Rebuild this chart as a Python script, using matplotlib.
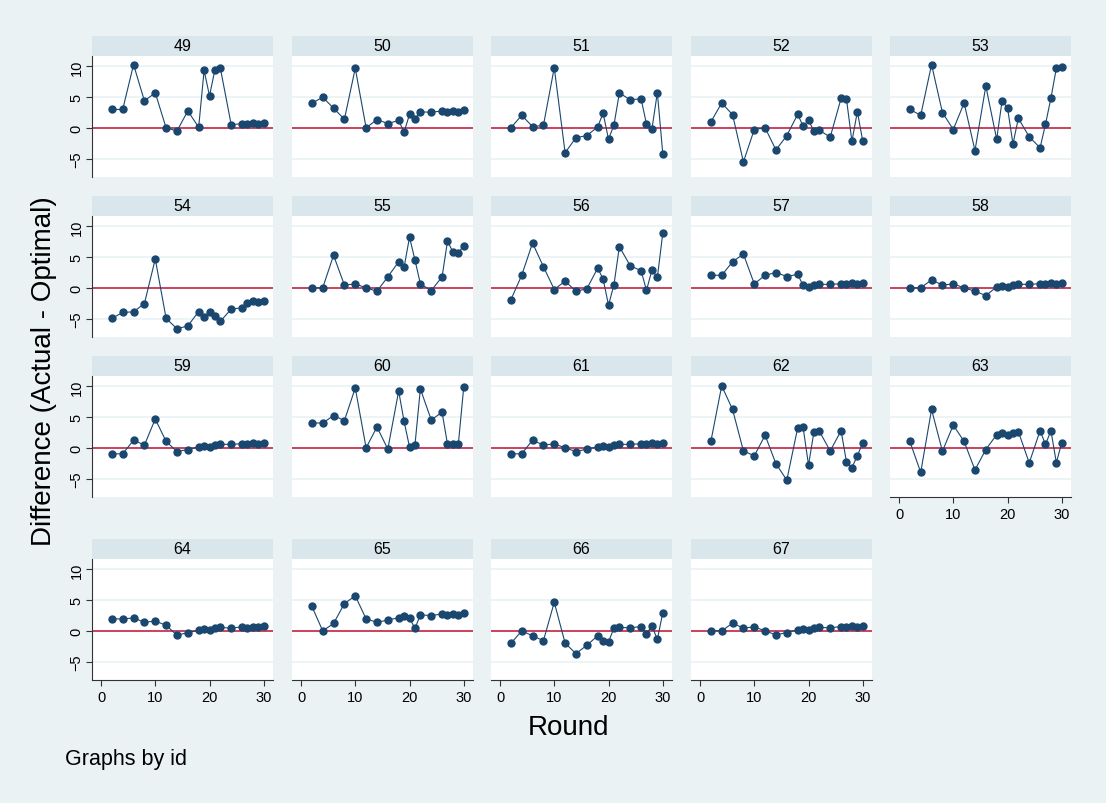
import matplotlib
matplotlib.use("Agg")
import matplotlib.pyplot as plt
from matplotlib.patches import Rectangle

plt.rcParams['font.family'] = ['Liberation Sans', 'DejaVu Sans']

rounds = [2, 4, 6, 8, 10, 12, 14, 16, 18, 19, 20, 21, 22, 24, 26, 27, 28, 29, 30]
ids = [49, 50, 51, 52, 53, 54, 55, 56, 57, 58, 59, 60, 61, 62, 63, 64, 65, 66, 67]

d49 = [3.0, 3.0, 10.3, 4.4, 5.7, 0.0, -0.5, 2.75, 0.1, 9.35, 5.2, 9.5, 9.7, 0.5, 0.7, 0.6, 0.8, 0.7, 0.8]
d50 = [4.0, 5.0, 3.2, 1.4, 9.7, 0.0, 1.35, 0.7, 1.2, -0.7, 2.2, 1.45, 2.6, 2.55, 2.75, 2.6, 2.8, 2.65, 2.85]
d51 = [0.0, 2.05, 0.2, 0.4, 9.8, -4.05, -1.6, -1.25, 0.15, 2.4, -1.85, 0.45, 5.7, 4.55, 4.75, 0.6, -0.2, 5.75, -4.2]
d52 = [0.97, 4.05, 2.15, -5.55, -0.27, 0.0, -3.6, -1.25, 2.2, 0.3, 1.2, -0.5, -0.4, -1.5, 4.8, 4.65, -2.2, 2.65, -2.2]
d53 = [3.0, 2.05, 10.3, 2.5, -0.27, 4.05, -3.7, 6.8, -1.85, 4.4, 3.25, -2.6, 1.55, -1.45, -3.25, 0.6, 4.85, 9.7, 9.85]
d54 = [-4.97, -4.0, -3.9, -2.55, 4.7, -4.97, -6.65, -6.2, -3.85, -4.7, -3.9, -4.55, -5.45, -3.45, -3.25, -2.4, -2.2, -2.3, -2.15]
d55 = [0.0, 0.0, 5.3, 0.45, 0.65, 0.0, -0.55, 1.8, 4.25, 3.35, 8.25, 4.55, 0.65, -0.45, 1.8, 7.6, 5.85, 5.75, 6.85]
d56 = [-1.95, 2.05, 7.3, 3.45, -0.27, 1.1, -0.55, -0.15, 3.2, 1.45, -2.8, 0.5, 6.7, 3.6, 2.8, -0.4, 2.9, 1.7, 8.9]
d57 = [2.05, 2.05, 4.25, 5.5, 0.65, 2.05, 2.5, 1.85, 2.2, 0.4, 0.2, 0.45, 0.6, 0.55, 0.7, 0.6, 0.75, 0.7, 0.85]
d58 = [0.0, 0.0, 1.3, 0.45, 0.65, 0.0, -0.55, -1.25, 0.15, 0.3, 0.2, 0.5, 0.6, 0.55, 0.7, 0.6, 0.75, 0.7, 0.85]
d59 = [-0.97, -0.97, 1.25, 0.45, 4.7, 1.05, -0.6, -0.27, 0.15, 0.3, 0.15, 0.5, 0.6, 0.55, 0.7, 0.6, 0.75, 0.7, 0.85]
d60 = [4.05, 4.05, 5.25, 4.45, 9.75, 0.0, 3.4, -0.2, 9.25, 4.3, 0.15, 0.45, 9.6, 4.55, 5.8, 0.6, 0.7, 0.65, 9.95]
d61 = [-0.97, -0.97, 1.25, 0.45, 0.65, 0.0, -0.6, -0.2, 0.15, 0.3, 0.15, 0.5, 0.6, 0.55, 0.7, 0.6, 0.75, 0.7, 0.85]
d62 = [1.05, 10.1, 6.25, -0.5, -1.3, 2.05, -2.6, -5.25, 3.25, 3.35, -2.8, 2.6, 2.7, -0.5, 2.8, -2.3, -3.2, -1.3, 0.85]
d63 = [1.05, -4.0, 6.25, -0.55, 3.7, 1.05, -3.6, -0.27, 2.15, 2.4, 2.15, 2.5, 2.65, -2.45, 2.8, 0.55, 2.8, -2.4, 0.85]
d64 = [1.95, 1.95, 2.1, 1.4, 1.6, 0.9, -0.7, -0.3, 0.1, 0.25, 0.1, 0.45, 0.55, 0.45, 0.65, 0.5, 0.7, 0.55, 0.8]
d65 = [4.0, 0.0, 1.2, 4.45, 5.7, 1.95, 1.4, 1.75, 2.15, 2.35, 2.1, 0.4, 2.6, 2.5, 2.75, 2.6, 2.8, 2.65, 2.9]
d66 = [-2.05, 0.0, -0.8, -1.6, 4.65, -2.0, -3.7, -2.35, -0.8, -1.7, -1.8, 0.45, 0.55, 0.5, 0.7, -0.45, 0.8, -1.4, 2.95]
d67 = [0.0, 0.0, 1.25, 0.45, 0.65, 0.0, -0.65, -0.27, 0.15, 0.3, 0.15, 0.45, 0.55, 0.5, 0.7, 0.55, 0.75, 0.65, 0.85]

series = [d49, d50, d51, d52, d53, d54, d55, d56, d57, d58,
          d59, d60, d61, d62, d63, d64, d65, d66, d67]

xticks = [0, 10, 20, 30]
yticks = [-5, 0, 5, 10]

W, H = 1106, 804
BG = '#EAF2F3'
STRIP = '#D9E6EB'
NAVY = '#1A476F'
RED = '#C8334E'

fig = plt.figure(figsize=(W / 100, H / 100), dpi=100, facecolor=BG)

col_left = [92, 292, 491, 691, 890]
pw = 181
row_top = [57, 217, 377, 560]
ph = 121
strip_h = 20

n = len(ids)
for i, (pid, vals) in enumerate(zip(ids, series)):
    r, c = divmod(i, 5)
    left = col_left[c]
    top = row_top[r]
    ax = fig.add_axes([left / W, 1 - (top + ph) / H, pw / W, ph / H])
    ax.set_facecolor('white')
    ax.set_xlim(-1.66, 31.7)
    ax.set_ylim(-8.0, 11.7)
    for yv in [-5, 5, 10]:
        ax.axhline(yv, color=BG, lw=1.2, zorder=0)
    ax.axhline(0, color=RED, lw=1.3, zorder=1)
    ax.plot(rounds, vals, color=NAVY, lw=0.8, marker='o', markersize=5,
            markerfacecolor=NAVY, markeredgecolor=NAVY, zorder=3, clip_on=False)
    # strip title
    ax.add_patch(Rectangle((0, 1), 1, strip_h / ph, transform=ax.transAxes,
                           facecolor=STRIP, edgecolor='none', clip_on=False))
    ax.text(0.5, 1 + strip_h / ph / 2, str(pid), transform=ax.transAxes,
            ha='center', va='center', fontsize=11.5, color='black')
    for s in ax.spines.values():
        s.set_visible(False)
    bottom_panel = (r == 3) or (i + 5 >= n)
    left_panel = (c == 0)
    ax.set_yticks(yticks)
    ax.set_xticks(xticks)
    if left_panel:
        ax.spines['left'].set_visible(True)
        ax.spines['left'].set_color('#333333')
        ax.spines['left'].set_linewidth(0.8)
        ax.tick_params(axis='y', length=4, width=0.8, color='#333333',
                       labelsize=10.5, pad=2)
        for lab in ax.get_yticklabels():
            lab.set_rotation(90)
            lab.set_va('center')
    else:
        ax.tick_params(axis='y', left=False, labelleft=False)
    if bottom_panel:
        ax.spines['bottom'].set_visible(True)
        ax.spines['bottom'].set_color('#333333')
        ax.spines['bottom'].set_linewidth(0.8)
        ax.tick_params(axis='x', length=4, width=0.8, color='#333333',
                       labelsize=10.5, pad=3)
    else:
        ax.tick_params(axis='x', bottom=False, labelbottom=False)

fig.text(44 / W, 1 - 371 / H, 'Difference (Actual - Optimal)', rotation=90,
         ha='center', va='center', fontsize=20)
fig.text(568 / W, 1 - 728 / H, 'Round', ha='center', va='center', fontsize=20)
fig.text(65 / W, 1 - 760 / H, 'Graphs by id', ha='left', va='center', fontsize=15.5)

fig.savefig('out.png', dpi=100, facecolor=BG)
